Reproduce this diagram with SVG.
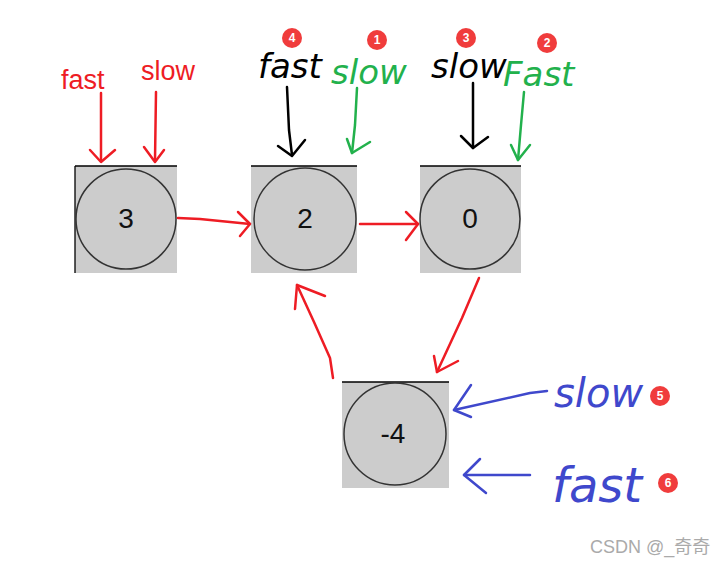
<svg xmlns="http://www.w3.org/2000/svg" width="728" height="565" viewBox="0 0 728 565">
<style>
.box{fill:#cccccc}
.edge{stroke:#000;stroke-width:1.3}
.circ{fill:#cccccc;stroke:#333;stroke-width:1.5}
.val{font-family:"Liberation Sans",Arial,sans-serif;font-size:28px;fill:#111;text-anchor:middle}
.lbl{font-family:"Liberation Sans",Arial,sans-serif;font-size:27px}
.hand{font-family:"DejaVu Sans",sans-serif;font-size:34px;font-style:italic}
.badge{fill:#f03c3c}
.bt{font-family:"Liberation Sans",Arial,sans-serif;font-size:12px;fill:#fff;text-anchor:middle;font-weight:bold}
.red{stroke:#ee1c24;fill:none;stroke-width:2.5;stroke-linecap:round;stroke-linejoin:round}
.blk{stroke:#000;fill:none;stroke-width:2.5;stroke-linecap:round;stroke-linejoin:round}
.grn{stroke:#22b14c;fill:none;stroke-width:2.5;stroke-linecap:round;stroke-linejoin:round}
.blu{stroke:#3f48cc;fill:none;stroke-width:2.5;stroke-linecap:round;stroke-linejoin:round}
</style>
<rect width="728" height="565" fill="#fff"/>
<g id="node3">
<rect class="box" x="75" y="166" width="102" height="107"/>
<line class="edge" x1="75" y1="166" x2="177" y2="166"/>
<line class="edge" x1="75" y1="166" x2="75" y2="273"/>
<circle class="circ" cx="126" cy="219" r="50"/>
<text class="val" x="126" y="228">3</text>
</g>
<g id="node2">
<rect class="box" x="251" y="166" width="106" height="107"/>
<line class="edge" x1="251" y1="166" x2="357" y2="166"/>
<circle class="circ" cx="305" cy="219" r="51"/>
<text class="val" x="305" y="228">2</text>
</g>
<g id="node0">
<rect class="box" x="420" y="166" width="101" height="107"/>
<line class="edge" x1="420" y1="166" x2="521" y2="166"/>
<circle class="circ" cx="470" cy="219" r="50"/>
<text class="val" x="470" y="228">0</text>
</g>
<g id="nodeM4">
<rect class="box" x="342" y="382" width="107" height="106"/>
<line class="edge" x1="342" y1="382" x2="449" y2="382"/>
<circle class="circ" cx="395" cy="434" r="51"/>
<text class="val" x="393" y="443">-4</text>
</g>
<g id="connectors">
<path class="red" d="M178,218 L200,219 L250,224"/>
<path class="red" d="M238,212 L250,224 L240,236"/>
<path class="red" d="M360,224 L418,224"/>
<path class="red" d="M406,212 L418,224 L406,240"/>
<path class="red" d="M479,278 L462,318 L437,372"/>
<path class="red" d="M434,356 L437,372 L458,361"/>
<path class="red" d="M333,378 L330,358 L314,322 L297,285"/>
<path class="red" d="M295,309 L297,285 L325,296"/>
</g>
<g id="pointers">
<path class="red" d="M101,93 L101,160"/>
<path class="red" d="M90,150 L101,162 L115,150"/>
<path class="red" d="M156,92 L155,160"/>
<path class="red" d="M144,147 L155,162 L164,150"/>
<path class="blk" d="M287,87 L289,130 L292,155"/>
<path class="blk" d="M278,146 L292,156 L305,140"/>
<path class="grn" d="M357,88 L355,125 L352,153"/>
<path class="grn" d="M347,139 L352,153 L370,142"/>
<path class="blk" d="M473,83 L473,148"/>
<path class="blk" d="M461,136 L473,148 L488,137"/>
<path class="grn" d="M524,92 L521,125 L518,160"/>
<path class="grn" d="M511,145 L518,160 L530,145"/>
<path class="blu" d="M547,391 L530,393 L454,410"/>
<path class="blu" d="M471,385 L454,410 L471,417"/>
<path class="blu" d="M530,475 L464,475"/>
<path class="blu" d="M480,459 L464,475 L486,493"/>
</g>
<g id="labels">
<text class="lbl" x="61" y="89" fill="#ee1c24">fast</text>
<text class="lbl" x="141" y="80" fill="#ee1c24">slow</text>
<text class="hand" x="258" y="78" fill="#000">fast</text>
<text class="hand" x="331" y="84" fill="#22b14c">slow</text>
<text class="hand" x="431" y="78" fill="#000">slow</text>
<text class="hand" x="503" y="86" fill="#22b14c">Fast</text>
<text class="hand" x="554" y="407" fill="#3f48cc" style="font-size:40px">slow</text>
<text class="hand" x="552" y="502" fill="#3f48cc" style="font-size:48px">fast</text>
</g>
<g id="badges">
<circle class="badge" cx="292" cy="38" r="10"/><text class="bt" x="292" y="42">4</text>
<circle class="badge" cx="377" cy="40" r="10"/><text class="bt" x="377" y="44">1</text>
<circle class="badge" cx="466" cy="38" r="10"/><text class="bt" x="466" y="42">3</text>
<circle class="badge" cx="547" cy="43" r="10"/><text class="bt" x="547" y="47">2</text>
<circle class="badge" cx="660" cy="396" r="10"/><text class="bt" x="660" y="400">5</text>
<circle class="badge" cx="668" cy="483" r="10"/><text class="bt" x="668" y="487">6</text>
</g>
<text x="590" y="553" style="font-family:'Liberation Sans','Noto Sans CJK SC',sans-serif;font-size:18px;fill:#aaaaaa">CSDN @_奇奇</text>
</svg>
